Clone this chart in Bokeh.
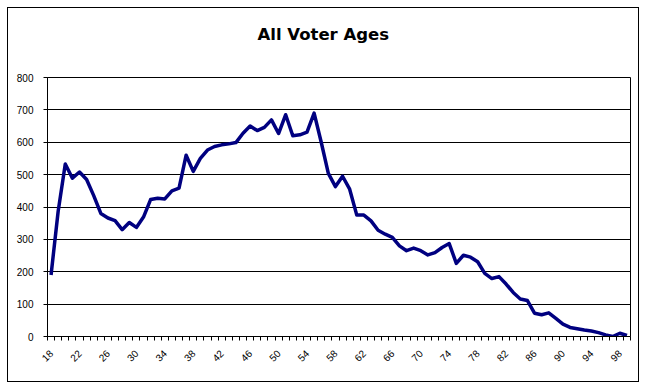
from math import pi
from bokeh.plotting import figure
from bokeh.models import Range1d, FixedTicker
from bokeh.embed import file_html
from bokeh.resources import INLINE

ages = list(range(18, 100))
voters = [190, 387, 533, 489, 508, 485, 435, 380, 366, 358,
          330, 352, 337, 369, 423, 427, 425, 450, 458, 560,
          510, 550, 576, 587, 592, 595, 599, 628, 650, 636,
          646, 669, 627, 685, 620, 623, 631, 690, 600, 504,
          463, 495, 455, 375, 375, 357, 328, 316, 306, 280,
          265, 273, 265, 252, 259, 275, 287, 226, 251, 245,
          231, 195, 179, 185, 162, 136, 116, 111, 72, 67,
          73, 56, 38, 28, 24, 20, 17, 12, 5, 0, 10, 3]
label_ticks = list(range(18, 99, 4))
y_ticks = list(range(0, 801, 100))
title_text = "All Voter Ages"

p = figure(width=632, height=375, output_backend="svg", toolbar_location=None,
           x_range=Range1d(17.5, 99.5), y_range=Range1d(0, 800),
           min_border_left=39, min_border_right=10, min_border_top=69,
           min_border_bottom=47)
p.styles = {"border": "1px solid black", "margin": "7px 0 0 7px"}

p.title.text = title_text
p.title.align = "left"
p.title.vertical_align = "top"
p.title.text_font = "DejaVu Sans"
p.title.text_font_size = "16.5px"
p.title.text_font_style = "bold"
p.title.text_color = "black"
p.title.standoff = 0
p.title.padding = (0, 0, 0, 32)   # left, right, top, bottom
p.title.offset = 210

p.outline_line_color = "black"
p.outline_line_width = 1
p.background_fill_color = "white"
p.border_fill_color = "white"

p.xgrid.grid_line_color = None
p.ygrid.grid_line_color = "black"
p.ygrid.grid_line_width = 1
p.yaxis.ticker = FixedTicker(ticks=y_ticks)
p.xaxis.ticker = FixedTicker(ticks=label_ticks,
                             minor_ticks=[a - 0.5 for a in ages] + [99.5])

for ax in (p.xaxis, p.yaxis):
    ax.axis_line_color = "black"
    ax.major_label_text_font = "Liberation Sans"
    ax.major_label_text_font_size = "10px"
    ax.major_label_text_color = "black"

p.yaxis.major_tick_out = 4
p.yaxis.major_tick_in = 0
p.yaxis.minor_tick_line_color = None
p.yaxis.major_label_standoff = 10

p.xaxis.major_tick_line_color = None
p.xaxis.minor_tick_out = 4
p.xaxis.minor_tick_in = 0
p.xaxis.minor_tick_line_color = "black"
p.xaxis.major_label_orientation = pi / 4
p.xaxis.major_label_standoff = 9

p.line(ages, voters, line_color="#000080", line_width=3.5, line_join="round")

open("out.html", "w").write(file_html(p, INLINE))
